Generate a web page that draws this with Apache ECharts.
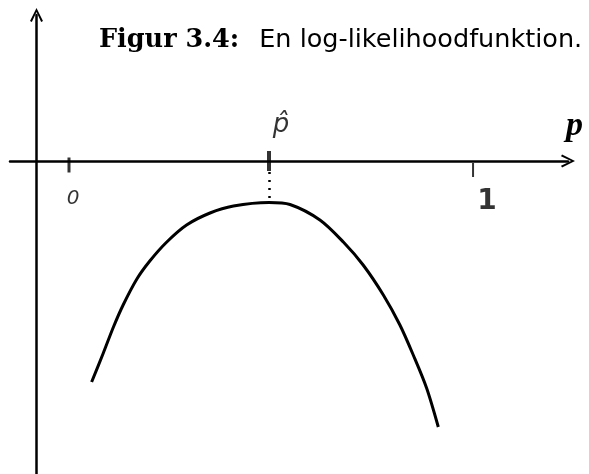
<!DOCTYPE html>
<html>
<head>
<meta charset="utf-8">
<script src="https://cdn.jsdelivr.net/npm/echarts@6/dist/echarts.min.js"></script>
<style>
  html, body { margin: 0; padding: 0; background: #fff; }
  #main { width: 589px; height: 474px; }
</style>
</head>
<body>
<div id="main"></div>
<script>
// kurvens punkter (p, log-likelihood)
const pValues = [0.056, 0.085, 0.110, 0.134, 0.168, 0.200, 0.242, 0.291, 0.349, 0.407, 0.495, 0.547, 0.621, 0.679, 0.728, 0.778, 0.819, 0.852, 0.885, 0.914];
const logLik = [-2.21, -1.92, -1.66, -1.44, -1.18, -1.00, -0.81, -0.64, -0.52, -0.45, -0.415, -0.435, -0.59, -0.81, -1.04, -1.34, -1.64, -1.94, -2.27, -2.66];
// akse-markeringer
const tickValues = [0, 0.495, 1];
const tickLabels = ['0', 'p\u0302', '1'];

const chevron = 'path://M0,10 L5,0 L10,10 L8.6,10.8 L5,3 L1.4,10.8 Z';

// udseende af hver markering (stil, ikke data)
const tickLook = [
  { size: [3, 15], off: [0, 4], label: [4, 34], font: { fontSize: 20, fontStyle: 'italic' } },
  { size: [4, 20], off: [0, 0], label: [12, -36], font: { fontSize: 26, fontStyle: 'italic' } },
  { size: [2, 14], off: [0, 9], label: [14, 32], font: { fontSize: 28, fontWeight: 'bold' } }
];

const chart = echarts.init(document.getElementById('main'));
const peak = Math.max(...logLik);
const phat = tickValues[1];

const option = {
  animation: false,
  backgroundColor: '#fff',
  title: {
    text: '{a|Figur 3.4:}{b|En log-likelihoodfunktion.}',
    left: 94,
    top: 22,
    textStyle: {
      rich: {
        a: { fontFamily: 'DejaVu Serif', fontWeight: 'bold', fontSize: 25.5, color: '#000', padding: [0, 20, 0, 0] },
        b: { fontFamily: 'DejaVu Sans', fontWeight: 'normal', fontSize: 25.5, color: '#000' }
      }
    }
  },
  grid: { left: 10, right: 21, top: 15, bottom: 0, outerBoundsMode: 'none', containLabel: false },
  xAxis: {
    type: 'value',
    min: -0.146,
    max: 1.235,
    name: 'p',
    nameLocation: 'end',
    nameGap: -2,
    nameTextStyle: {
      fontFamily: 'Liberation Serif', fontSize: 34, fontStyle: 'italic', fontWeight: 'bold',
      color: '#000', verticalAlign: 'bottom', lineHeight: 70
    },
    axisLine: {
      onZero: true,
      symbol: ['none', chevron],
      symbolSize: [13, 14],
      lineStyle: { color: '#000', width: 2.5 }
    },
    axisTick: { show: false },
    axisLabel: { show: false },
    splitLine: { show: false }
  },
  yAxis: {
    type: 'value',
    min: -3.13,
    max: 1.46,
    offset: -26.5,
    axisLine: {
      show: true,
      onZero: false,
      symbol: ['none', chevron],
      symbolSize: [13, 14],
      lineStyle: { color: '#000', width: 2.5 }
    },
    axisTick: { show: false },
    axisLabel: { show: false },
    splitLine: { show: false }
  },
  series: [
    {
      type: 'line',
      data: pValues.map((p, i) => [p, logLik[i]]),
      smooth: 0.3,
      showSymbol: false,
      lineStyle: { color: '#000', width: 3 },
      markLine: {
        silent: true,
        symbol: 'none',
        label: { show: false },
        lineStyle: { color: '#000', width: 2.5, type: [2, 6] },
        data: [[{ coord: [phat, -0.11] }, { coord: [phat, peak] }]]
      }
    },
    {
      type: 'scatter',
      silent: true,
      data: tickValues.map((v, i) => ({
        value: [v, 0],
        symbolSize: tickLook[i].size,
        symbolOffset: tickLook[i].off,
        label: Object.assign({
          show: true,
          position: 'inside',
          offset: tickLook[i].label,
          formatter: tickLabels[i],
          fontFamily: 'DejaVu Sans',
          color: '#000',
          textBorderWidth: 0
        }, tickLook[i].font)
      })),
      symbol: 'rect',
      itemStyle: { color: '#000' }
    }
  ]
};

chart.setOption(option);
</script>
</body>
</html>
